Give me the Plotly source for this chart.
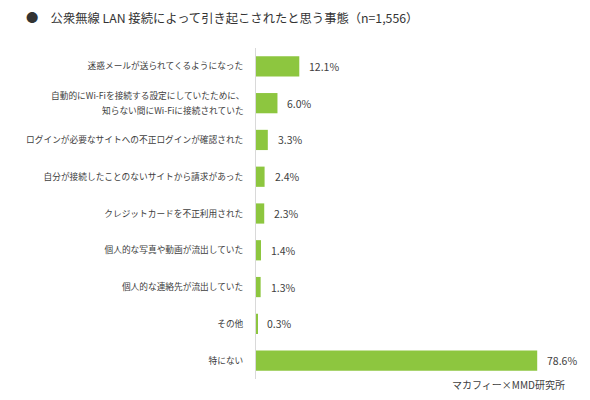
import plotly.graph_objects as go

categories = [
    "迷惑メールが送られてくるようになった",
    "自動的にWi-Fiを接続する設定にしていたために、<br>知らない間にWi-Fiに接続されていた",
    "ログインが必要なサイトへの不正ログインが確認された",
    "自分が接続したことのないサイトから請求があった",
    "クレジットカードを不正利用された",
    "個人的な写真や動画が流出していた",
    "個人的な連絡先が流出していた",
    "その他",
    "特にない",
]
values = [12.1, 6.0, 3.3, 2.4, 2.3, 1.4, 1.3, 0.3, 78.6]
value_labels = [f"{v:.1f}%" for v in values]

title_text = "●　公衆無線 LAN 接続によって引き起こされたと思う事態（n=1,556）"
source_text = "マカフィー×MMD研究所"

FONT = "Noto Sans CJK JP"
GREEN = "#8dc63f"
GRAY = "#404040"
LABEL_SIZE = 8.7

fig = go.Figure()
fig.add_trace(go.Bar(
    x=values,
    y=categories,
    orientation="h",
    marker=dict(color=GREEN, line=dict(width=0)),
    width=0.55,
    hoverinfo="skip",
))

annotations = []
for c, v, t in zip(categories, values, value_labels):
    annotations.append(dict(
        x=v, y=c, xref="x", yref="y", text=t, showarrow=False,
        xanchor="left", yanchor="middle", xshift=8,
        font=dict(family=FONT, size=10.5, color=GRAY),
    ))

# category labels: single-line ones as tick labels, multi-line ones as
# separate annotations so the line spacing matches the reference
ticktext = []
for c in categories:
    if "<br>" in c:
        ticktext.append("")
        lines = c.split("<br>")
        n = len(lines)
        for i, line in enumerate(lines):
            annotations.append(dict(
                x=0, y=c, xref="paper", yref="y", text=line, showarrow=False,
                xanchor="right", yanchor="middle", xshift=-10,
                yshift=(n - 1) * 7.5 - i * 15,
                font=dict(family=FONT, size=LABEL_SIZE, color=GRAY),
            ))
    else:
        ticktext.append(c)

L, R_M, T, B = 256, 12, 48, 21
plot_w = 590 - L - R_M

annotations.append(dict(
    x=(24 - L) / plot_w, y=1, xref="paper", yref="paper",
    yshift=30, text=title_text, showarrow=False,
    xanchor="left", yanchor="middle",
    font=dict(family=FONT, size=12.3, color="#333333"),
))
annotations.append(dict(
    x=(567 - L) / plot_w, y=0, xref="paper", yref="paper",
    yshift=-5, text=source_text, showarrow=False,
    xanchor="right", yanchor="middle",
    font=dict(family=FONT, size=10, color=GRAY),
))

fig.update_layout(
    width=590, height=400,
    margin=dict(l=L, r=R_M, t=T, b=B),
    paper_bgcolor="white", plot_bgcolor="white",
    showlegend=False,
    annotations=annotations,
    bargap=0.45,
    xaxis=dict(range=[0, 90], showgrid=False, zeroline=False,
               showticklabels=False, ticks="", showline=False, fixedrange=True),
    yaxis=dict(autorange="reversed", showgrid=False, zeroline=False,
               showline=True, linecolor="#d9d9d9", linewidth=1,
               ticks="", ticklabelstandoff=10,
               tickmode="array", tickvals=categories, ticktext=ticktext,
               tickfont=dict(family=FONT, size=LABEL_SIZE, color=GRAY)),
)

fig.write_html("out.html")
